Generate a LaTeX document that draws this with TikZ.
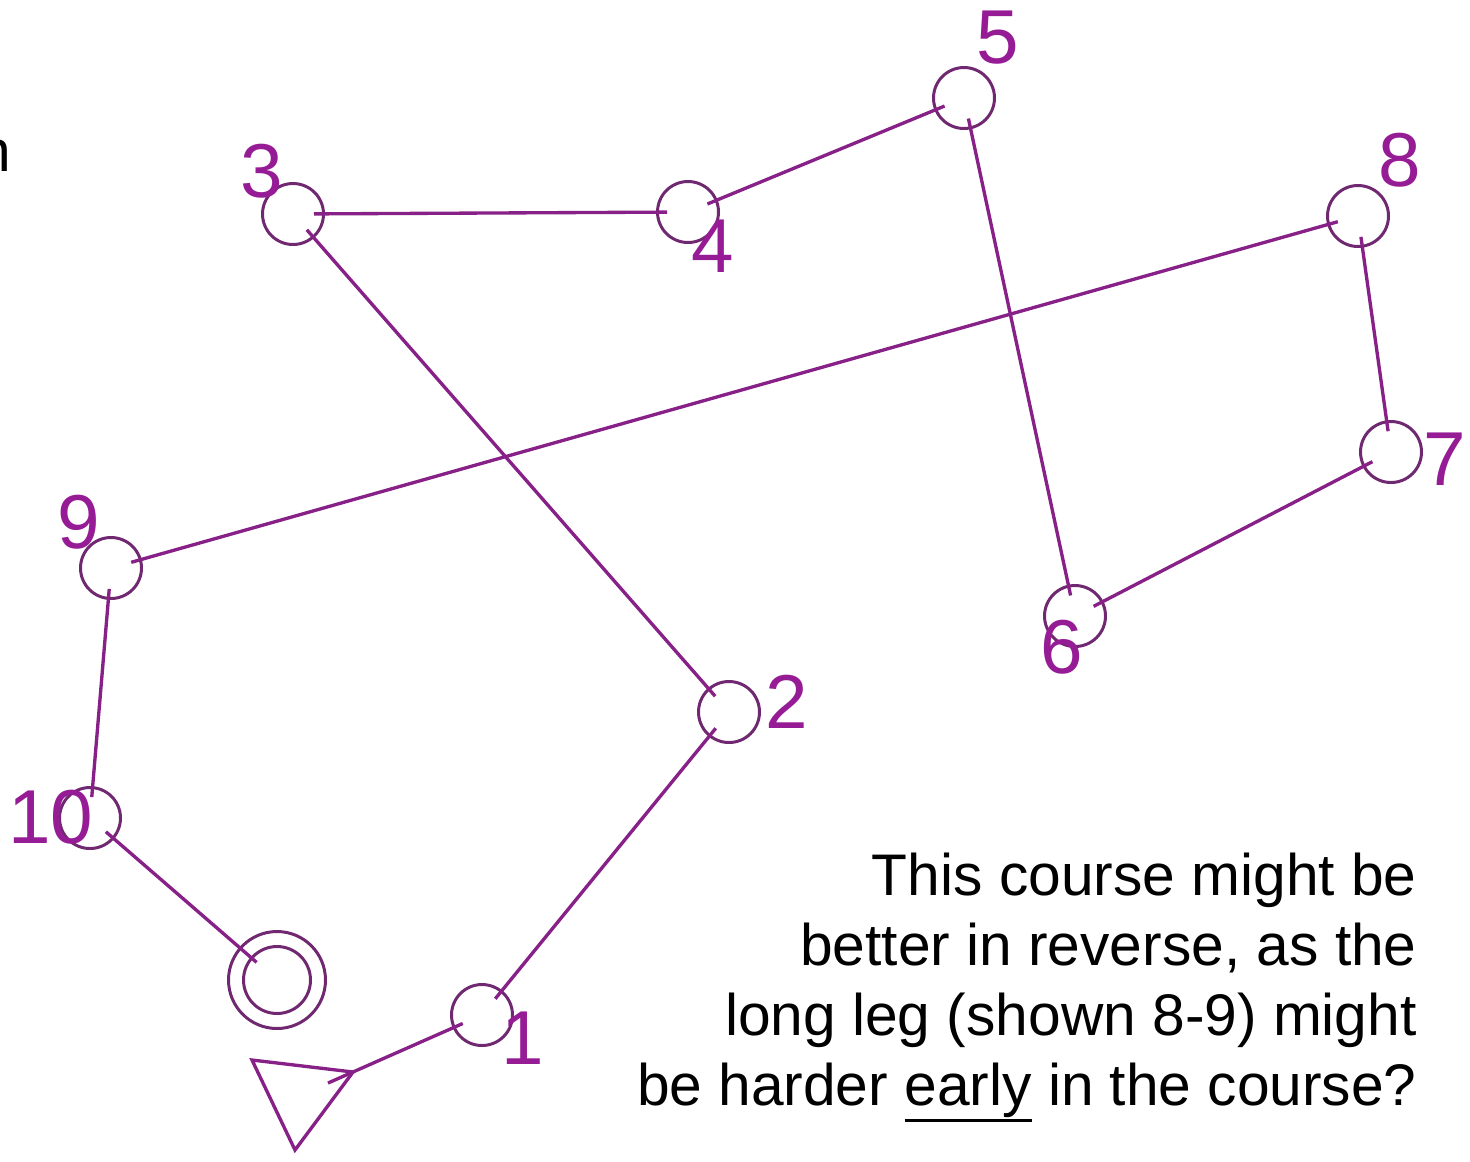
\documentclass[tikz,border=0pt]{standalone}
\usepackage{fontspec}
\setmainfont{Liberation Sans}
\definecolor{circ}{RGB}{112,40,112}
\definecolor{leg}{RGB}{135,32,135}
\definecolor{num}{RGB}{150,28,150}
\newcommand\myul[1]{\vtop{\hbox{#1}\kern1pt\hrule height 1.7pt}}
\begin{document}
\begin{tikzpicture}[x=0.02cm,y=-0.02cm,
  ctrl/.style={draw=circ,line width=1.7pt,circle,minimum size=1.22cm,inner sep=0pt},
  legline/.style={draw=leg,line width=1.9pt,shorten <=0.42cm,shorten >=0.42cm},
  numlbl/.style={text=num,font=\fontsize{43.5}{50}\selectfont,inner sep=0pt},
  note/.style={font=\fontsize{33.4}{39.7}\selectfont,inner sep=0pt,align=right}]
\useasboundingbox (0,0) rectangle (1470,1161);
\clip (0,0) rectangle (1470,1161);
% cut-off letter at the left edge
\node[note,anchor=base east] (cut) at (11,171) {n};
% control circles
\node[ctrl] (c1) at (482,1015) {};
\node[ctrl] (c2) at (729,712) {};
\node[ctrl] (c3) at (293,214) {};
\node[ctrl] (c4) at (688,212) {};
\node[ctrl] (c5) at (964,98) {};
\node[ctrl] (c6) at (1075,616) {};
\node[ctrl] (c7) at (1391,452) {};
\node[ctrl] (c8) at (1358,216) {};
\node[ctrl] (c9) at (111,568) {};
\node[ctrl] (c10) at (90,818) {};
% finish
\node[draw=circ,line width=1.7pt,circle,minimum size=1.94cm,inner sep=0pt] (fin) at (277,980) {};
\draw[circ,line width=1.7pt] (fin.center) circle[radius=0.67cm];
% start triangle
\draw[leg,line width=1.9pt,line join=miter] (252,1060) -- (353,1072) -- (295,1150) -- cycle;
\coordinate (S) at (328,1083);
% labels
\node[numlbl] (l1) at (523,1038) {1};
\node[numlbl] (l2) at (787,702) {2};
\node[numlbl] (l3) at (262,171) {3};
\node[numlbl] (l4) at (713,246) {4};
\node[numlbl] (l5) at (998,38) {5};
\node[numlbl] (l6) at (1062,647) {6};
\node[numlbl] (l7) at (1445,459) {7};
\node[numlbl] (l8) at (1400,160) {8};
\node[numlbl] (l9) at (79,522) {9};
\node[numlbl] (l10) at (51,817) {10};
% legs
\draw[legline,shorten <=0pt] (S) -- (c1.center);
\draw[legline] (c1.center) -- (c2.center);
\draw[legline] (c2.center) -- (c3.center);
\draw[legline] (c3.center) -- (c4.center);
\draw[legline] (c4.center) -- (c5.center);
\draw[legline] (c5.center) -- (c6.center);
\draw[legline] (c6.center) -- (c7.center);
\draw[legline] (c7.center) -- (c8.center);
\draw[legline] (c8.center) -- (c9.center);
\draw[legline] (c9.center) -- (c10.center);
\draw[legline,shorten >=0.54cm] (c10.center) -- (fin.center);
% note
\node[note,anchor=base east] (txt) at (1417,1105) {This course might be\\better in reverse, as the\\long leg (shown 8-9) might\\be harder \myul{early} in the course?};
\end{tikzpicture}
\end{document}
